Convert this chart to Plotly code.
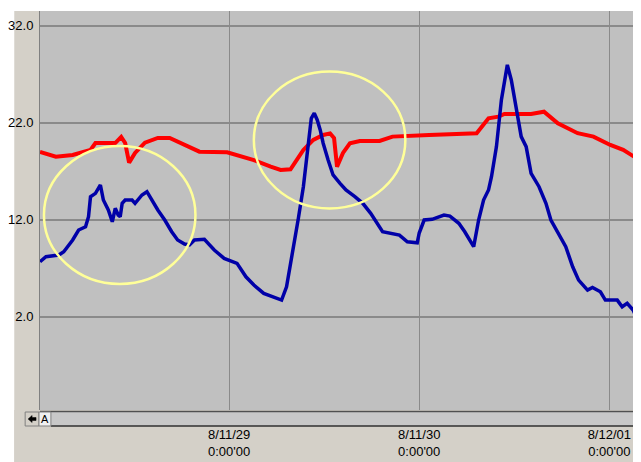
import pandas as pd
import plotly.graph_objects as go

# ---- data (hours since 2008-11-28 00:00, temperature) ----
red_hours = [0.125, 2.125, 4.25, 6.5, 7.125, 9.625, 10.375, 10.875, 11.375, 12.125, 13.375, 15.0, 16.5,
             18.375, 20.25, 23.75, 25.5, 27.125, 29.25, 30.5, 31.75, 32.375, 33.375, 34.625, 35.875,
             36.75, 37.25, 37.625, 38.375, 39.25, 40.5, 43.0, 43.75, 44.625, 49.25, 55.25, 56.75,
             58.0, 58.75, 62.125, 63.75, 65.5, 68.0, 70.0, 72.125, 73.75, 76.0]
red_values = [18.98, 18.5, 18.67, 19.19, 19.9, 19.9, 20.53, 19.9, 17.88, 18.88, 19.94, 20.42, 20.42,
              19.7, 19.01, 18.95, 18.57, 18.15, 17.46, 17.12, 17.2, 17.98, 19.19, 20.22, 20.73,
              20.89, 20.42, 17.46, 18.88, 19.88, 20.11, 20.11, 20.29, 20.56, 20.73, 20.91, 22.45,
              22.62, 22.9, 22.9, 23.13, 21.94, 20.91, 20.56, 19.7, 19.19, 18.05]

blue_hours = [0.125, 0.875, 2.5, 3.125, 4.25, 5.0, 5.875, 6.25, 6.5, 7.125, 7.75, 8.125, 8.75, 9.25,
              9.625, 10.0, 10.25, 10.5, 10.875, 11.75, 12.125, 13.0, 13.625, 14.25, 15.0, 15.875,
              16.75, 17.5, 18.375, 19.0, 19.625, 20.875, 22.125, 23.375, 25.0, 26.125, 27.125,
              28.375, 29.625, 30.625, 31.25, 31.875, 32.75, 33.375, 34.0, 34.375, 34.75, 35.125,
              35.5, 35.875, 36.5, 37.125, 38.0, 38.75, 39.875, 40.875, 41.875, 43.375, 45.5, 46.5,
              47.75, 48.0, 48.625, 49.625, 51.125, 51.875, 53.0, 53.75, 54.875, 55.5, 56.125, 56.75,
              57.125, 57.75, 58.375, 59.125, 59.625, 60.25, 60.875, 61.5, 62.125, 63.125, 64.0,
              64.625, 65.5, 66.5, 67.375, 68.125, 69.25, 69.875, 70.875, 71.5, 73.0, 73.625, 74.25,
              75.0, 75.5, 76.0]
blue_values = [7.67, 8.19, 8.36, 8.7, 9.91, 10.94, 11.28, 12.31, 14.37, 14.72, 15.58, 14.03, 13.0, 11.79,
               13.18, 12.48, 12.31, 13.69, 14.03, 14.03, 13.69, 14.55, 14.89, 14.03, 13.0, 11.97,
               10.76, 9.91, 9.5, 9.4, 9.91, 9.98, 8.88, 8.02, 7.51, 6.12, 5.27,
               4.41, 4.06, 3.72, 5.09, 7.85, 12.18, 15.4, 19.53, 22.45, 22.97, 22.28,
               21.25, 19.88, 18.15, 16.61, 15.75, 15.06, 14.37, 13.69, 12.66, 10.76, 10.42, 9.73,
               9.63, 10.63, 11.97, 12.04, 12.48, 12.38, 11.63, 10.76, 9.22, 11.97, 14.03, 15.06,
               16.43, 19.53, 24.34, 27.95, 26.4, 23.31, 20.56, 19.53, 16.78, 15.4, 13.69,
               11.97, 10.6, 9.22, 7.15, 5.78, 4.75, 5.03, 4.58, 3.72, 3.72, 3.03, 3.38,
               2.69, 1.84, 1.84]

y_tick_values = [2.0, 12.0, 22.0, 32.0]
y_tick_labels = ["2.0", "12.0", "22.0", "32.0"]
x_tick_hours = [24, 48, 72]
x_tick_labels = ["8/11/29<br>0:00'00", "8/11/30<br>0:00'00", "8/12/01<br>0:00'00"]

start = pd.Timestamp("2008-11-28 00:00")
to_time = lambda hrs: [start + pd.Timedelta(hours=h) for h in hrs]

FONT = "Liberation Sans, Arial, sans-serif"
O = 8  # page margin offset of the browser body
W, H = 633, 454
L, R, T, B = 26, 0, 3, 52
PW, PH = W - L - R, H - T - B


def px(x):
    return (x - O - L) / PW


def py(y):
    return (H - B - (y - O)) / PH


fig = go.Figure()
fig.add_trace(go.Scatter(x=to_time(red_hours), y=red_values, mode="lines",
                         line=dict(color="#FF0000", width=4), hoverinfo="skip"))
fig.add_trace(go.Scatter(x=to_time(blue_hours), y=blue_values, mode="lines",
                         line=dict(color="#0000A8", width=3.5), hoverinfo="skip"))

shapes = []
# beige frame areas
shapes.append(dict(type="rect", xref="paper", yref="paper", x0=px(8), x1=px(34), y0=py(462), y1=py(11),
                   fillcolor="#D4D0C8", line_width=0, layer="below"))
shapes.append(dict(type="rect", xref="paper", yref="paper", x0=px(8), x1=px(641), y0=py(462), y1=py(410),
                   fillcolor="#D4D0C8", line_width=0, layer="below"))
# scroll strip
shapes.append(dict(type="rect", xref="paper", yref="paper", x0=px(45), x1=px(641), y0=py(426), y1=py(411),
                   fillcolor="#C8C8C8", line_width=0, layer="above"))
shapes.append(dict(type="line", xref="paper", yref="paper", x0=px(34), x1=px(641), y0=py(411.5), y1=py(411.5),
                   line=dict(color="#505050", width=1.5), layer="above"))
shapes.append(dict(type="line", xref="paper", yref="paper", x0=px(45), x1=px(641), y0=py(426), y1=py(426),
                   line=dict(color="#303030", width=1.5), layer="above"))
# buttons
shapes.append(dict(type="rect", xref="paper", yref="paper", x0=px(19), x1=px(33), y0=py(426), y1=py(412),
                   fillcolor="#D4D0C8", line=dict(color="#808080", width=1), layer="above"))
shapes.append(dict(type="rect", xref="paper", yref="paper", x0=px(33), x1=px(45), y0=py(426), y1=py(412),
                   fillcolor="#F0F0F0", line=dict(color="#808080", width=1), layer="above"))
shapes.append(dict(type="path", xref="paper", yref="paper",
                   path=f"M {px(22)} {py(419)} L {px(26)} {py(415.5)} L {px(26)} {py(417.5)} L {px(30)} {py(417.5)} "
                        f"L {px(30)} {py(420.5)} L {px(26)} {py(420.5)} L {px(26)} {py(422.5)} Z",
                   fillcolor="#000000", line=dict(color="#000000", width=0.5), layer="above"))
# yellow ellipses
shapes.append(dict(type="circle", xref="paper", yref="paper", x0=px(38), x1=px(191), y0=py(284), y1=py(146),
                   line=dict(color="#FFFF99", width=2.5), layer="above"))
shapes.append(dict(type="circle", xref="paper", yref="paper", x0=px(250), x1=px(403), y0=py(208.5), y1=py(71.5),
                   line=dict(color="#FFFF99", width=2.5), layer="above"))

annotations = [dict(text="A", xref="paper", yref="paper", x=px(39), y=py(419), showarrow=False,
                    font=dict(family=FONT, size=11, color="#000000"), xanchor="center", yanchor="middle")]

fig.update_layout(
    width=W, height=H, autosize=False,
    margin=dict(l=L, r=R, t=T, b=B, pad=0),
    paper_bgcolor="#FFFFFF", plot_bgcolor="#C0C0C0",
    showlegend=False,
    shapes=shapes, annotations=annotations,
    font=dict(family=FONT, color="#000000"),
)
fig.update_xaxes(
    type="date", range=[start + pd.Timedelta(hours=0.125), start + pd.Timedelta(hours=76)],
    tickvals=to_time(x_tick_hours), ticktext=x_tick_labels,
    showgrid=True, gridcolor="#8A8A8A", gridwidth=1, zeroline=False,
    ticks="", ticklabelstandoff=15, tickfont=dict(size=13, family=FONT, color="#000000"),
    showline=False,
)
fig.update_yaxes(
    range=[-7.6, 33.5], tickvals=y_tick_values, ticktext=y_tick_labels,
    showgrid=True, gridcolor="#8A8A8A", gridwidth=2, zeroline=False,
    ticks="", ticklabelstandoff=3, tickfont=dict(size=13, family=FONT, color="#000000"),
    showline=True, linecolor="#808080", linewidth=1,
)

fig.write_html("out.html", config={"displayModeBar": False})
